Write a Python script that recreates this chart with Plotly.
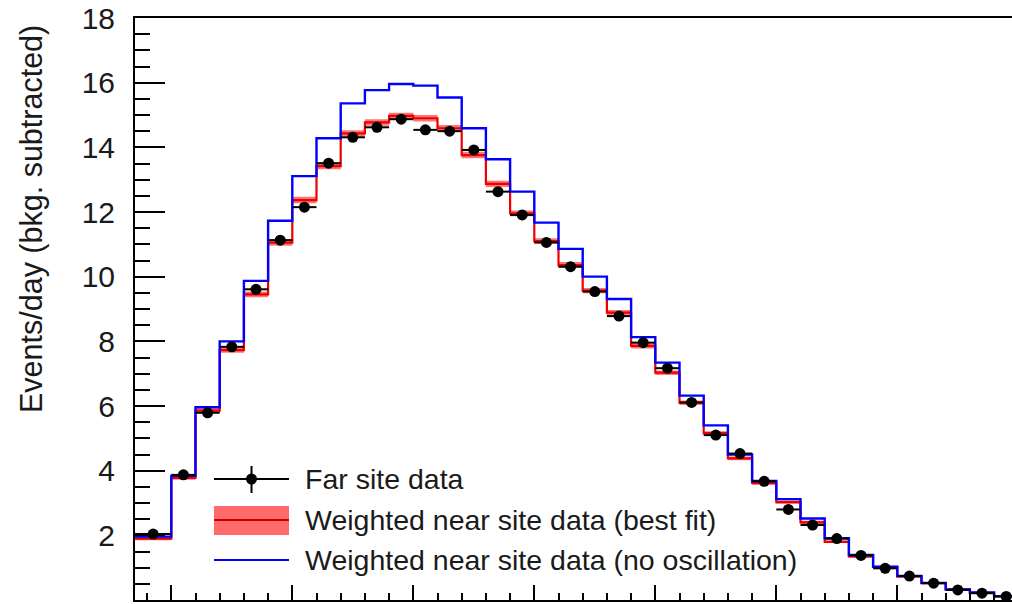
import numpy as np
import plotly.graph_objects as go

# ---------------- data ----------------
bin_edges = [0.7] + [round(1.0 + 0.2 * i, 1) for i in range(36)]   # 0.7, 1.0, 1.2, ... 8.0

far_site = [2.04, 3.87, 5.79, 7.83, 9.61, 11.13, 12.15, 13.51, 14.31, 14.62,
            14.87, 14.54, 14.50, 13.92, 12.63, 11.91, 11.06, 10.31, 9.54, 8.78,
            7.96, 7.17, 6.11, 5.10, 4.53, 3.67, 2.80, 2.32, 1.90, 1.38,
            0.98, 0.74, 0.52, 0.31, 0.21, 0.11]
far_err = [0.05, 0.07, 0.08, 0.09, 0.10, 0.10, 0.11, 0.11, 0.12, 0.12,
           0.12, 0.12, 0.12, 0.12, 0.11, 0.11, 0.10, 0.10, 0.10, 0.09,
           0.09, 0.08, 0.08, 0.07, 0.07, 0.06, 0.06, 0.05, 0.05, 0.04,
           0.04, 0.03, 0.03, 0.02, 0.02, 0.02]

best_fit = [1.90, 3.78, 5.86, 7.73, 9.45, 11.05, 12.37, 13.42, 14.43, 14.77,
            14.97, 14.90, 14.59, 13.76, 12.87, 11.96, 11.10, 10.36, 9.57, 8.89,
            7.86, 7.03, 6.10, 5.16, 4.38, 3.62, 3.03, 2.40, 1.80, 1.35,
            1.02, 0.73, 0.52, 0.33, 0.22, 0.11]
best_fit_err = [0.05, 0.06, 0.07, 0.08, 0.09, 0.09, 0.10, 0.10, 0.10, 0.10,
                0.10, 0.10, 0.10, 0.10, 0.10, 0.09, 0.09, 0.09, 0.08, 0.08,
                0.08, 0.07, 0.07, 0.06, 0.06, 0.06, 0.05, 0.05, 0.04, 0.04,
                0.04, 0.03, 0.03, 0.03, 0.02, 0.02]

no_osc = [1.96, 3.84, 5.96, 8.00, 9.87, 11.73, 13.11, 14.28, 15.36, 15.77,
          15.96, 15.91, 15.54, 14.59, 13.63, 12.63, 11.67, 10.86, 10.00, 9.31,
          8.13, 7.34, 6.32, 5.40, 4.50, 3.68, 3.12, 2.52, 1.91, 1.39,
          1.03, 0.74, 0.53, 0.33, 0.23, 0.12]

y_tick_vals = [2, 4, 6, 8, 10, 12, 14, 16, 18]
legend_labels = ["Far site data",
                 "Weighted near site data (best fit)",
                 "Weighted near site data (no oscillation)"]
y_title = "Events/day (bkg. subtracted)"

# ---------------- derived ----------------
edges = np.array(bin_edges)
centers = 0.5 * (edges[:-1] + edges[1:])
halfw = 0.5 * (edges[1:] - edges[:-1])

def step(vals):
    v = list(vals)
    return list(edges), v + [v[-1]]

bf = np.array(best_fit)
bfe = np.array(best_fit_err)

fig = go.Figure()

xs, lo = step(bf - bfe)
_, hi = step(bf + bfe)
fig.add_trace(go.Scatter(x=xs, y=lo, mode="lines", line=dict(width=0, shape="hv"),
                         hoverinfo="skip", showlegend=False))
fig.add_trace(go.Scatter(x=xs, y=hi, mode="lines", line=dict(width=0, shape="hv"),
                         fill="tonexty", fillcolor="rgba(255,70,70,0.75)",
                         hoverinfo="skip", showlegend=False))
xs, ys = step(best_fit)
fig.add_trace(go.Scatter(x=xs, y=ys, mode="lines",
                         line=dict(color="#ee0000", width=2.2, shape="hv"),
                         showlegend=False))
xs, ys = step(no_osc)
fig.add_trace(go.Scatter(x=xs, y=ys, mode="lines",
                         line=dict(color="#0000ff", width=2.4, shape="hv"),
                         showlegend=False))
fig.add_trace(go.Scatter(x=centers, y=far_site, mode="markers",
                         marker=dict(color="black", size=11, symbol="circle"),
                         error_x=dict(type="data", array=halfw, width=0,
                                      thickness=2, color="black"),
                         error_y=dict(type="data", array=far_err, width=0,
                                      thickness=2, color="black"),
                         showlegend=False))

# ---------------- layout ----------------
L, T, R, B = 135, 18, 1012, 600
W_PLOT, H_PLOT = R - L, B - T

def fx(px):
    return (px - L) / W_PLOT

def fy(py):
    return (B - py) / H_PLOT

shapes = []
annotations = []
font_fam = "Liberation Sans, Arial, Helvetica, sans-serif"

# legend entry 1: data point with error bars
shapes.append(dict(type="line", xref="paper", yref="paper",
                   x0=fx(214), x1=fx(289), y0=fy(479), y1=fy(479),
                   line=dict(color="black", width=2)))
shapes.append(dict(type="line", xref="paper", yref="paper",
                   x0=fx(251.5), x1=fx(251.5), y0=fy(466), y1=fy(493),
                   line=dict(color="black", width=2)))
shapes.append(dict(type="circle", xref="paper", yref="paper",
                   x0=fx(246), x1=fx(257), y0=fy(473.5), y1=fy(484.5),
                   fillcolor="black", line=dict(color="black", width=0)))
# legend entry 2: band with line
shapes.append(dict(type="rect", xref="paper", yref="paper",
                   x0=fx(214), x1=fx(289), y0=fy(506), y1=fy(535),
                   fillcolor="#ff6a6a", line=dict(width=0)))
shapes.append(dict(type="line", xref="paper", yref="paper",
                   x0=fx(214), x1=fx(289), y0=fy(520), y1=fy(520),
                   line=dict(color="#cc0000", width=2)))
# legend entry 3: blue line
shapes.append(dict(type="line", xref="paper", yref="paper",
                   x0=fx(214), x1=fx(289), y0=fy(560), y1=fy(560),
                   line=dict(color="#0000ff", width=2)))

for lab, py in zip(legend_labels, [479, 520, 560]):
    annotations.append(dict(text=lab, xref="paper", yref="paper",
                            x=fx(303), y=fy(py), xanchor="left", yanchor="middle",
                            showarrow=False,
                            font=dict(family=font_fam, size=28.5, color="#1a1a1a")))

annotations.append(dict(text=y_title, xref="paper", yref="paper",
                        x=fx(31), y=fy(219), xanchor="center", yanchor="middle",
                        textangle=-90, showarrow=False,
                        font=dict(family=font_fam, size=30.5, color="#1a1a1a")))

fig.update_layout(
    width=1012, height=604,
    margin=dict(l=L, r=1012 - R, t=T, b=604 - B),
    paper_bgcolor="white", plot_bgcolor="white",
    showlegend=False,
    shapes=shapes, annotations=annotations,
    xaxis=dict(range=[0.7, 0.7 + W_PLOT / 121.0], showgrid=False, zeroline=False,
               showline=True, linecolor="black", linewidth=2, mirror=True,
               ticks="inside", ticklen=15, tickwidth=2, tickcolor="black",
               tick0=0, dtick=1, showticklabels=False,
               minor=dict(ticks="inside", ticklen=7, tickwidth=2,
                          tickcolor="black", dtick=0.2, tick0=0, showgrid=False)),
    yaxis=dict(range=[0, 18], showgrid=False, zeroline=False,
               showline=True, linecolor="black", linewidth=2, mirror=False,
               ticks="inside", ticklen=30, tickwidth=2, tickcolor="black",
               tickvals=y_tick_vals, ticktext=[str(v) for v in y_tick_vals],
               ticklabelstandoff=12,
               tickfont=dict(family=font_fam, size=30, color="#1a1a1a"),
               minor=dict(ticks="inside", ticklen=15, tickwidth=2,
                          tickcolor="black", dtick=0.5, tick0=0, showgrid=False)),
)

fig.write_html("out.html")
